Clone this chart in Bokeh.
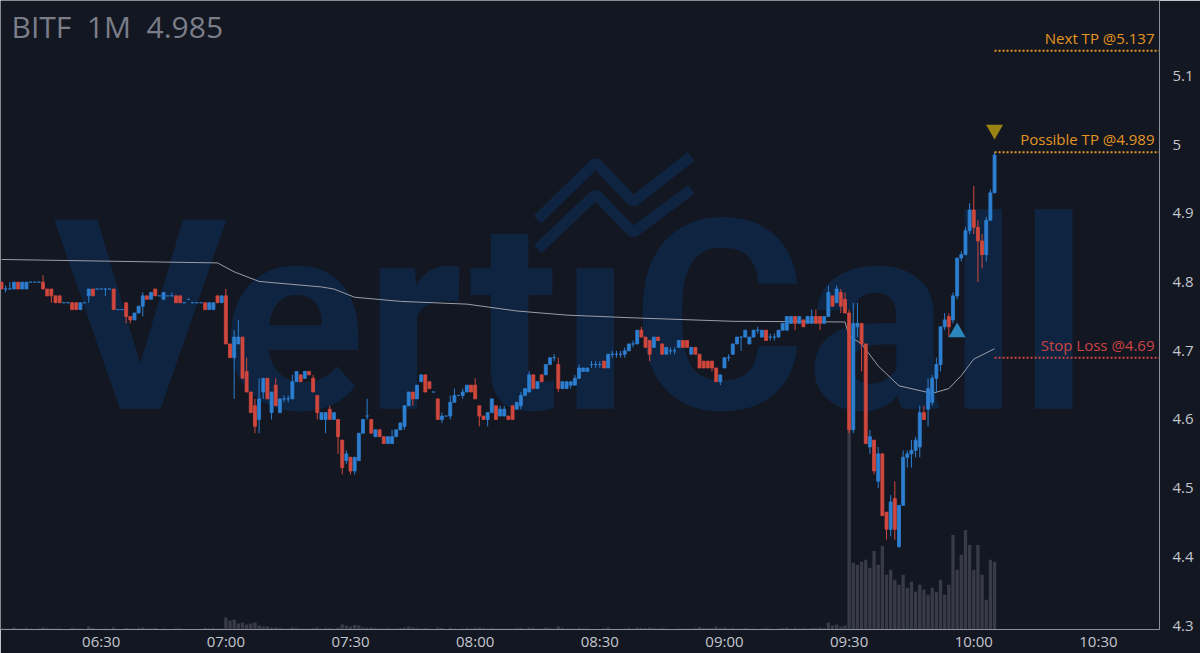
from bokeh.plotting import figure
from bokeh.models import Range1d, FixedTicker, NumeralTickFormatter, Label, ColumnDataSource
from bokeh.embed import file_html
from bokeh.resources import INLINE

ticker = "BITF"
interval = "1M"
last_price = 4.985
start_time = "06:06"   # time of the first 1-minute candle

opens = [
    4.80, 4.79, 4.79, 4.79, 4.80, 4.79, 4.79, 4.80, 4.80, 4.80,
    4.80, 4.79, 4.79, 4.78, 4.78, 4.77, 4.77, 4.77, 4.77, 4.76,
    4.77, 4.78, 4.79, 4.79, 4.79, 4.79, 4.79, 4.79, 4.76, 4.76,
    4.77, 4.75, 4.745, 4.755, 4.765, 4.78, 4.775, 4.79, 4.78, 4.775,
    4.78, 4.78, 4.78, 4.78, 4.77, 4.775, 4.77, 4.77, 4.77, 4.77,
    4.76, 4.76, 4.78, 4.77, 4.78, 4.71, 4.69, 4.71, 4.72, 4.67,
    4.64, 4.62, 4.60, 4.64, 4.66, 4.61, 4.65, 4.61, 4.63, 4.63,
    4.63, 4.655, 4.665, 4.66, 4.67, 4.66, 4.635, 4.60, 4.60, 4.615,
    4.60, 4.60, 4.57, 4.54, 4.545, 4.525, 4.54, 4.58, 4.605, 4.60,
    4.575, 4.585, 4.575, 4.565, 4.565, 4.575, 4.585, 4.59, 4.62, 4.64,
    4.63, 4.655, 4.665, 4.655, 4.64, 4.63, 4.60, 4.605, 4.605, 4.625,
    4.635, 4.635, 4.64, 4.65, 4.65, 4.62, 4.605, 4.60, 4.61, 4.62,
    4.605, 4.605, 4.605, 4.62, 4.615, 4.62, 4.635, 4.64, 4.665, 4.645,
    4.665, 4.665, 4.68, 4.69, 4.68, 4.645, 4.645, 4.65, 4.65, 4.66,
    4.67, 4.67, 4.68, 4.68, 4.68, 4.685, 4.675, 4.695, 4.695, 4.695,
    4.695, 4.70, 4.71, 4.71, 4.73, 4.72, 4.715, 4.705, 4.72, 4.71,
    4.695, 4.70, 4.70, 4.705, 4.715, 4.715, 4.695, 4.705, 4.695, 4.685,
    4.685, 4.685, 4.675, 4.655, 4.675, 4.69, 4.695, 4.71, 4.72, 4.72,
    4.71, 4.72, 4.73, 4.72, 4.73, 4.72, 4.72, 4.72, 4.73, 4.73,
    4.74, 4.75, 4.74, 4.745, 4.74, 4.74, 4.75, 4.75, 4.74, 4.75,
    4.78, 4.77, 4.785, 4.775, 4.755, 4.585, 4.735, 4.74, 4.71, 4.56,
    4.57, 4.51, 4.55, 4.465, 4.44, 4.485, 4.415, 4.475, 4.545, 4.55,
    4.555, 4.56, 4.61, 4.615, 4.625, 4.66, 4.68, 4.735, 4.75, 4.745,
    4.78, 4.835, 4.84, 4.875, 4.905, 4.88, 4.86, 4.84, 4.89, 4.93,
]
highs = [
    4.80, 4.795, 4.80, 4.80, 4.80, 4.80, 4.80, 4.80, 4.80, 4.80,
    4.81, 4.79, 4.79, 4.78, 4.78, 4.77, 4.77, 4.77, 4.77, 4.77,
    4.77, 4.79, 4.79, 4.79, 4.79, 4.79, 4.79, 4.79, 4.76, 4.76,
    4.77, 4.75, 4.755, 4.765, 4.785, 4.78, 4.785, 4.79, 4.78, 4.785,
    4.78, 4.785, 4.78, 4.78, 4.77, 4.775, 4.77, 4.77, 4.77, 4.77,
    4.77, 4.77, 4.78, 4.78, 4.79, 4.71, 4.73, 4.745, 4.72, 4.69,
    4.64, 4.63, 4.66, 4.66, 4.66, 4.64, 4.66, 4.63, 4.635, 4.635,
    4.665, 4.67, 4.665, 4.67, 4.67, 4.665, 4.635, 4.61, 4.61, 4.62,
    4.61, 4.60, 4.57, 4.555, 4.545, 4.545, 4.58, 4.60, 4.63, 4.60,
    4.585, 4.585, 4.575, 4.575, 4.585, 4.585, 4.595, 4.62, 4.64, 4.64,
    4.65, 4.665, 4.665, 4.655, 4.64, 4.63, 4.61, 4.605, 4.635, 4.645,
    4.635, 4.645, 4.65, 4.65, 4.66, 4.62, 4.605, 4.61, 4.63, 4.62,
    4.62, 4.62, 4.605, 4.62, 4.625, 4.64, 4.645, 4.67, 4.665, 4.655,
    4.665, 4.68, 4.69, 4.695, 4.69, 4.655, 4.655, 4.655, 4.665, 4.68,
    4.675, 4.675, 4.685, 4.685, 4.685, 4.685, 4.695, 4.70, 4.70, 4.70,
    4.705, 4.71, 4.715, 4.73, 4.735, 4.72, 4.715, 4.72, 4.72, 4.71,
    4.705, 4.705, 4.705, 4.715, 4.715, 4.715, 4.705, 4.705, 4.695, 4.685,
    4.685, 4.685, 4.675, 4.665, 4.69, 4.695, 4.71, 4.72, 4.72, 4.73,
    4.72, 4.73, 4.735, 4.73, 4.73, 4.725, 4.725, 4.73, 4.74, 4.75,
    4.75, 4.75, 4.75, 4.745, 4.75, 4.76, 4.76, 4.75, 4.75, 4.795,
    4.78, 4.795, 4.79, 4.785, 4.76, 4.77, 4.77, 4.74, 4.71, 4.585,
    4.57, 4.56, 4.55, 4.465, 4.49, 4.51, 4.475, 4.555, 4.555, 4.57,
    4.575, 4.62, 4.62, 4.66, 4.665, 4.69, 4.735, 4.755, 4.755, 4.785,
    4.835, 4.845, 4.88, 4.915, 4.94, 4.89, 4.87, 4.895, 4.935, 4.989,
]
lows = [
    4.79, 4.785, 4.79, 4.79, 4.79, 4.79, 4.79, 4.80, 4.80, 4.80,
    4.79, 4.78, 4.77, 4.77, 4.77, 4.77, 4.77, 4.76, 4.76, 4.76,
    4.77, 4.77, 4.78, 4.79, 4.79, 4.78, 4.79, 4.76, 4.76, 4.76,
    4.74, 4.74, 4.745, 4.755, 4.75, 4.775, 4.775, 4.78, 4.78, 4.775,
    4.78, 4.78, 4.77, 4.77, 4.77, 4.775, 4.77, 4.77, 4.77, 4.76,
    4.76, 4.76, 4.77, 4.77, 4.71, 4.69, 4.63, 4.71, 4.66, 4.64,
    4.61, 4.58, 4.58, 4.63, 4.63, 4.60, 4.62, 4.61, 4.625, 4.625,
    4.63, 4.655, 4.655, 4.66, 4.665, 4.64, 4.60, 4.60, 4.58, 4.60,
    4.60, 4.55, 4.52, 4.535, 4.52, 4.52, 4.54, 4.58, 4.60, 4.58,
    4.575, 4.575, 4.565, 4.565, 4.565, 4.575, 4.585, 4.585, 4.62, 4.62,
    4.63, 4.655, 4.64, 4.645, 4.64, 4.60, 4.595, 4.605, 4.60, 4.625,
    4.635, 4.63, 4.64, 4.64, 4.63, 4.59, 4.60, 4.59, 4.61, 4.60,
    4.605, 4.605, 4.60, 4.60, 4.615, 4.615, 4.635, 4.64, 4.645, 4.645,
    4.655, 4.665, 4.68, 4.685, 4.64, 4.645, 4.645, 4.645, 4.65, 4.66,
    4.67, 4.67, 4.675, 4.675, 4.675, 4.675, 4.675, 4.69, 4.69, 4.69,
    4.69, 4.70, 4.705, 4.71, 4.72, 4.705, 4.685, 4.705, 4.715, 4.695,
    4.695, 4.695, 4.695, 4.705, 4.705, 4.705, 4.695, 4.695, 4.675, 4.675,
    4.675, 4.67, 4.655, 4.65, 4.675, 4.685, 4.695, 4.71, 4.70, 4.72,
    4.71, 4.72, 4.725, 4.72, 4.715, 4.715, 4.715, 4.72, 4.73, 4.73,
    4.74, 4.73, 4.74, 4.735, 4.74, 4.74, 4.74, 4.73, 4.74, 4.75,
    4.765, 4.77, 4.755, 4.755, 4.58, 4.58, 4.72, 4.67, 4.565, 4.55,
    4.52, 4.50, 4.46, 4.425, 4.43, 4.425, 4.413, 4.475, 4.53, 4.53,
    4.545, 4.545, 4.60, 4.59, 4.62, 4.64, 4.67, 4.73, 4.72, 4.74,
    4.775, 4.83, 4.84, 4.87, 4.87, 4.80, 4.82, 4.83, 4.89, 4.93,
]
closes = [
    4.79, 4.79, 4.79, 4.80, 4.79, 4.80, 4.80, 4.80, 4.80, 4.80,
    4.79, 4.78, 4.78, 4.77, 4.77, 4.77, 4.77, 4.76, 4.76, 4.77,
    4.77, 4.79, 4.78, 4.79, 4.79, 4.79, 4.79, 4.76, 4.76, 4.76,
    4.75, 4.745, 4.755, 4.765, 4.78, 4.775, 4.785, 4.78, 4.78, 4.785,
    4.78, 4.78, 4.77, 4.77, 4.77, 4.775, 4.77, 4.77, 4.77, 4.76,
    4.77, 4.77, 4.77, 4.78, 4.71, 4.69, 4.72, 4.72, 4.66, 4.64,
    4.61, 4.59, 4.63, 4.66, 4.63, 4.64, 4.62, 4.63, 4.63, 4.63,
    4.655, 4.67, 4.655, 4.67, 4.665, 4.64, 4.61, 4.61, 4.61, 4.60,
    4.61, 4.575, 4.53, 4.55, 4.525, 4.545, 4.58, 4.60, 4.605, 4.58,
    4.585, 4.575, 4.565, 4.575, 4.575, 4.585, 4.595, 4.62, 4.64, 4.63,
    4.65, 4.665, 4.64, 4.645, 4.64, 4.60, 4.605, 4.605, 4.625, 4.635,
    4.635, 4.64, 4.65, 4.64, 4.63, 4.605, 4.60, 4.61, 4.63, 4.60,
    4.615, 4.615, 4.60, 4.60, 4.625, 4.635, 4.645, 4.665, 4.645, 4.655,
    4.655, 4.68, 4.69, 4.69, 4.645, 4.655, 4.655, 4.655, 4.66, 4.675,
    4.675, 4.675, 4.68, 4.68, 4.68, 4.675, 4.695, 4.695, 4.695, 4.695,
    4.70, 4.71, 4.71, 4.73, 4.72, 4.705, 4.695, 4.72, 4.715, 4.695,
    4.705, 4.70, 4.70, 4.715, 4.705, 4.705, 4.705, 4.695, 4.675, 4.675,
    4.675, 4.675, 4.655, 4.665, 4.69, 4.69, 4.71, 4.72, 4.72, 4.73,
    4.72, 4.73, 4.73, 4.73, 4.715, 4.72, 4.72, 4.73, 4.74, 4.75,
    4.75, 4.74, 4.75, 4.735, 4.75, 4.75, 4.74, 4.74, 4.75, 4.785,
    4.765, 4.79, 4.765, 4.755, 4.585, 4.74, 4.74, 4.71, 4.565, 4.575,
    4.525, 4.55, 4.46, 4.44, 4.48, 4.44, 4.475, 4.545, 4.55, 4.555,
    4.57, 4.61, 4.60, 4.645, 4.66, 4.68, 4.735, 4.745, 4.735, 4.78,
    4.835, 4.84, 4.875, 4.905, 4.88, 4.86, 4.84, 4.89, 4.93, 4.985,
]
volumes_k = [
    3, 2, 2, 4, 2, 2, 3, 2, 1, 2,
    4, 3, 2, 2, 2, 1, 1, 3, 2, 2,
    1, 6, 3, 1, 1, 2, 1, 4, 1, 1,
    3, 2, 2, 3, 4, 2, 2, 3, 1, 2,
    1, 1, 2, 2, 1, 1, 1, 1, 1, 3,
    2, 3, 2, 2, 24, 18, 20, 12, 14, 10,
    12, 14, 8, 6, 6, 4, 4, 3, 2, 2,
    4, 3, 2, 2, 2, 3, 4, 2, 3, 3,
    2, 4, 10, 8, 6, 9, 8, 4, 4, 4,
    3, 2, 2, 3, 2, 2, 3, 4, 6, 4,
    3, 2, 3, 2, 1, 4, 3, 1, 3, 2,
    1, 2, 3, 2, 3, 4, 3, 2, 3, 2,
    2, 2, 2, 2, 3, 3, 2, 4, 3, 2,
    2, 4, 3, 2, 6, 3, 2, 2, 2, 3,
    2, 2, 1, 1, 1, 2, 4, 1, 1, 1,
    2, 3, 2, 4, 3, 3, 4, 3, 2, 3,
    2, 1, 1, 2, 2, 2, 2, 3, 5, 3,
    3, 3, 6, 3, 4, 2, 3, 2, 2, 3,
    2, 2, 1, 2, 3, 2, 1, 2, 3, 4,
    2, 3, 2, 3, 2, 3, 3, 4, 3, 14,
    8, 10, 6, 8, 400, 134, 130, 136, 140, 124,
    158, 130, 168, 110, 120, 100, 90, 110, 84, 96,
    76, 90, 80, 70, 84, 76, 100, 70, 90, 190,
    120, 150, 200, 170, 120, 170, 110, 60, 140, 136,
]

vwap_times = ["06:06", "06:58", "07:02", "07:08", "07:23", "07:26", "07:31", "07:42",
              "07:58", "08:10", "08:22", "08:38", "09:02", "09:29", "09:30", "09:33",
              "09:37", "09:42", "09:50", "09:54", "09:57", "10:00", "10:05"]
vwap_values = [4.833, 4.828, 4.815, 4.801, 4.793, 4.790, 4.778, 4.772,
               4.768, 4.758, 4.752, 4.748, 4.743, 4.742, 4.722, 4.710,
               4.678, 4.649, 4.638, 4.645, 4.664, 4.688, 4.703]

x_tick_labels = ["06:30", "07:00", "07:30", "08:00", "08:30", "09:00", "09:30", "10:00", "10:30"]
y_ticks = [4.3, 4.4, 4.5, 4.6, 4.7, 4.8, 4.9, 5.0, 5.1]

next_tp = 5.137
possible_tp = 4.989
stop_loss = 4.69
buy_signal_time, buy_signal_price = "09:56", 4.727
sell_signal_time, sell_signal_price = "10:05", 5.022

BG = "#131722"
UP = "#2d7fd1"
DOWN = "#d0473d"
ORANGE = "#e39520"
RED = "#cc4444"
WATERMARK = "#0f2440"


def to_min(t):
    h, m = t.split(":")
    return int(h) * 60 + int(m)


t0 = to_min(start_time)
xs = [t0 + i for i in range(len(closes))]
colors = [UP if c >= o else DOWN for o, c in zip(opens, closes)]
src = ColumnDataSource(dict(
    x=xs, o=opens, h=highs, l=lows, c=closes, color=colors,
    top=[max(o, c) for o, c in zip(opens, closes)],
    bottom=[min(o, c) for o, c in zip(opens, closes)],
    vol=volumes_k,
))

x_start, x_end = t0 - 0.24, t0 + 278.7
y_start, y_end = 4.2942, 5.2101

p = figure(width=1200, height=653, output_backend="svg", toolbar_location=None,
           x_range=Range1d(x_start, x_end), y_range=Range1d(y_start, y_end),
           y_axis_location="right", background_fill_color=BG, border_fill_color=BG,
           min_border_left=0, min_border_top=0, min_border_right=41, min_border_bottom=21)
p.outline_line_color = None
p.grid.visible = False
p.extra_y_ranges = {"vol": Range1d(0, 1264)}

# watermark
p.add_layout(Label(x=t0 + 12.5, y=4.748, text="Vert\u0131Call", text_color=WATERMARK,
                   text_font="Roboto", text_font_style="bold",
                   text_font_size="266px", text_baseline="alphabetic", level="underlay"))
logo_x = [[to_min("08:15"), to_min("08:29"), to_min("08:38"), to_min("08:52")],
          [to_min("08:15"), to_min("08:29"), to_min("08:38"), to_min("08:52")]]
logo_y = [[4.891, 4.974, 4.917, 4.983], [4.848, 4.928, 4.872, 4.935]]
p.multi_line(logo_x, logo_y, line_color=WATERMARK, line_width=11, level="underlay")

# volume
p.vbar(x="x", top="vol", bottom=0, width=0.8, source=src, y_range_name="vol",
       fill_color="#383b46", line_color=None)

# vwap
p.line([to_min(t) for t in vwap_times], vwap_values, line_color="#9a9ea8", line_width=1)

# candles
p.segment(x0="x", x1="x", y0="l", y1="h", source=src, line_color="color", line_width=1)
p.vbar(x="x", top="top", bottom="bottom", width=0.72, source=src,
       fill_color="color", line_color="color", line_width=0.8)

# signals
p.scatter([to_min(buy_signal_time)], [buy_signal_price], marker="triangle", size=17,
          fill_color="#2b86bd", line_color=None)
p.scatter([to_min(sell_signal_time)], [sell_signal_price], marker="inverted_triangle", size=17,
          fill_color="#9a8414", line_color=None)

# levels
last_x = xs[-1]
for lvl, txt, col in [(next_tp, f"Next TP @{next_tp}", ORANGE),
                      (possible_tp, f"Possible TP @{possible_tp}", ORANGE),
                      (stop_loss, f"Stop Loss @{stop_loss}", RED)]:
    p.segment(x0=[last_x], x1=[x_end], y0=[lvl], y1=[lvl], line_color=col,
              line_width=2, line_dash="2 2")
    p.add_layout(Label(x=x_end, y=lvl, text=txt, text_color=col, text_align="right",
                       text_baseline="bottom", x_offset=-5, y_offset=3,
                       text_font="Open Sans", text_font_size="15px"))

# title
p.add_layout(Label(x=x_start, y=y_end, text=f"{ticker}\u00a0 {interval}\u00a0 {last_price}",
                   text_color="#7b7e89", text_font="Open Sans", text_font_size="30px",
                   text_baseline="top", x_offset=11, y_offset=-5))

# axes
x_ticks = [to_min(t) for t in x_tick_labels]
p.xaxis.ticker = FixedTicker(ticks=x_ticks)
p.xaxis.major_label_overrides = {k: v for k, v in zip(x_ticks, x_tick_labels)}
p.yaxis.ticker = FixedTicker(ticks=y_ticks)
p.yaxis.formatter = NumeralTickFormatter(format="0.[0]")
for ax in (p.xaxis, p.yaxis):
    ax.axis_line_color = "#8c8f99"
    ax.major_tick_line_color = None
    ax.minor_tick_line_color = None
    ax.major_tick_out = 0
    ax.major_tick_in = 0
    ax.minor_tick_out = 0
    ax.minor_tick_in = 0
    ax.major_label_text_color = "#c3c6ce"
    ax.major_label_text_font = "Open Sans"
    ax.major_label_text_font_size = "15px"
p.xaxis.major_label_standoff = 1
p.yaxis.major_label_standoff = 13

open("out.html", "w").write(file_html(p, INLINE))
